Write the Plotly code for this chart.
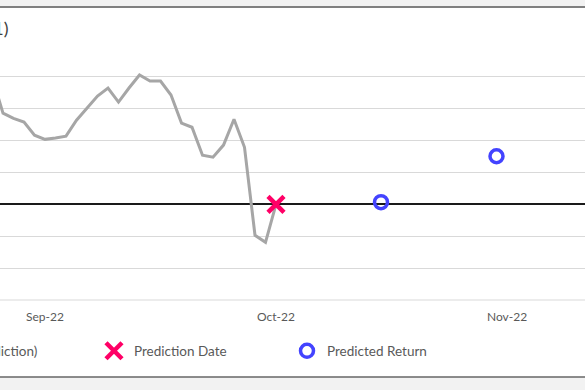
import plotly.graph_objects as go

# ---- data (trading-day index, cumulative return in %) ----
actual_idx = list(range(-1, 27))
actual_ret = [3.96, 2.86, 2.70, 2.58, 2.17, 2.04, 2.08, 2.14, 2.64, 3.02,
              3.40, 3.65, 3.21, 3.65, 4.06, 3.87, 3.87, 3.43, 2.55, 2.42,
              1.54, 1.48, 1.86, 2.67, 1.79, -0.97, -1.19, 0.0]
pred_date_idx = [26]
pred_date_ret = [0.0]
pred_idx = [36, 47]
pred_ret = [0.07, 1.51]
tick_idx = [4, 26, 48]
tick_labels = ["Sep-22", "Oct-22", "Nov-22"]
title_text = "Actual vs. Predicted Return (t+1)"

W, H = 585, 390
ML, MR, MT, MB = 0, 0, 45, 90
PW = W - ML - MR
PH = H - MT - MB

def px_x(p):
    return (p - ML) / PW

def px_y(p):
    return (H - MB - p) / PH

FONT = "Lato, 'Open Sans', sans-serif"
GREY_TXT = "#595959"
LEG_SIZE = 13.5

fig = go.Figure()
fig.add_trace(go.Scatter(
    x=actual_idx, y=actual_ret, mode="lines",
    name="Actual Return (Pre-Prediction)",
    line=dict(color="#a6a6a6", width=3),
    legend="legend"))
fig.add_trace(go.Scatter(
    x=pred_date_idx, y=pred_date_ret, mode="markers",
    name="Prediction Date",
    marker=dict(symbol="x-thin-open", size=16, color="#ff0066",
                line=dict(color="#ff0066", width=4.5)),
    legend="legend2"))
fig.add_trace(go.Scatter(
    x=pred_idx, y=pred_ret, mode="markers",
    name="Predicted Return",
    marker=dict(symbol="circle-open", size=13, color="#4343ff",
                line=dict(color="#4343ff", width=3.5)),
    legend="legend3"))

x0 = (0 - 3) / 10.5
x1 = (W - 3) / 10.5

fig.update_layout(
    width=W, height=H,
    margin=dict(l=ML, r=MR, t=MT, b=MB, autoexpand=False),
    paper_bgcolor="white", plot_bgcolor="white",
    font=dict(family=FONT, size=12, color=GREY_TXT),
    xaxis=dict(range=[x0, x1], tickvals=tick_idx, ticktext=tick_labels,
               showgrid=False, zeroline=False, showline=False,
               ticks="outside", ticklen=6, tickcolor="rgba(0,0,0,0)",
               tickfont=dict(size=12, color=GREY_TXT)),
    yaxis=dict(range=[-3, 5], dtick=1, showgrid=True, gridcolor="#d9d9d9",
               gridwidth=1, zeroline=True, zerolinecolor="#1a1a1a",
               zerolinewidth=1.6, showticklabels=False, showline=False),
    showlegend=True,
    legend=dict(x=px_x(42.7), xanchor="right", y=px_y(351), yanchor="middle",
                bgcolor="rgba(0,0,0,0)", font=dict(size=LEG_SIZE, color=GREY_TXT)),
    legend2=dict(x=px_x(94), xanchor="left", y=px_y(351), yanchor="middle",
                 bgcolor="rgba(0,0,0,0)", font=dict(size=LEG_SIZE, color=GREY_TXT)),
    legend3=dict(x=px_x(287), xanchor="left", y=px_y(351), yanchor="middle",
                 bgcolor="rgba(0,0,0,0)", font=dict(size=LEG_SIZE, color=GREY_TXT)),
    annotations=[dict(text=title_text, xref="paper", yref="paper",
                      x=px_x(10.5), y=px_y(28), xanchor="right", yanchor="middle",
                      showarrow=False, font=dict(size=18, color="#404040"))],
    shapes=[
        dict(type="rect", xref="paper", yref="paper", x0=0, x1=1,
             y0=px_y(7), y1=px_y(-2), fillcolor="#f2f2f2", line=dict(width=0)),
        dict(type="line", xref="paper", yref="paper", x0=0, x1=1,
             y0=px_y(7), y1=px_y(7), line=dict(color="#808080", width=2)),
        dict(type="line", xref="paper", yref="paper", x0=0, x1=1,
             y0=px_y(300), y1=px_y(300), line=dict(color="#d9d9d9", width=1)),
        dict(type="rect", xref="paper", yref="paper", x0=0, x1=1,
             y0=px_y(392), y1=px_y(377), fillcolor="#f2f2f2", line=dict(width=0)),
        dict(type="line", xref="paper", yref="paper", x0=0, x1=1,
             y0=px_y(377), y1=px_y(377), line=dict(color="#666666", width=1.5)),
    ],
)

fig.write_html("out.html", config={"displayModeBar": False},
               post_script="document.body.style.margin='0';")
